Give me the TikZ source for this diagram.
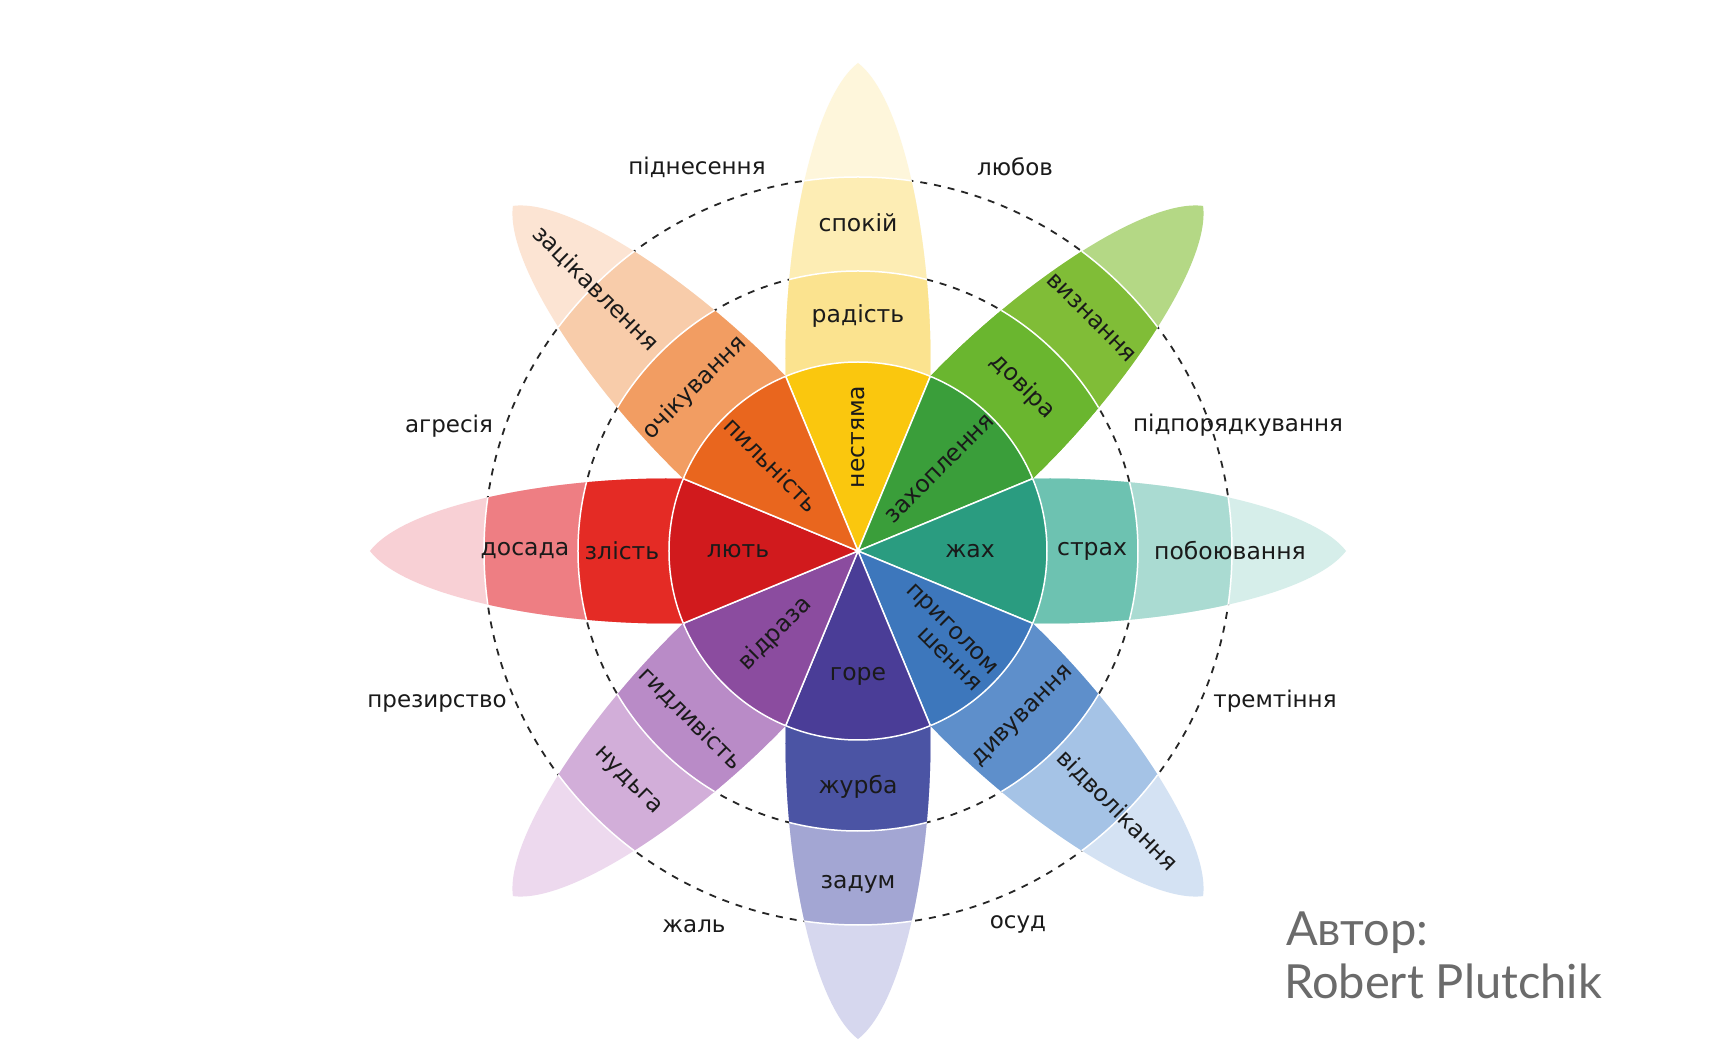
\documentclass[tikz,border=0pt]{standalone}
\usepackage{fontspec}
\setmainfont{DejaVu Sans}
\newfontfamily\authorfont{Lato}
\definecolor{joyA}{HTML}{FAC70E}\definecolor{joyB}{HTML}{FBE38F}\definecolor{joyC}{HTML}{FDEDB4}\definecolor{joyD}{HTML}{FEF6DB}
\definecolor{truA}{HTML}{3A9E3A}\definecolor{truB}{HTML}{6AB62F}\definecolor{truC}{HTML}{80BD37}\definecolor{truD}{HTML}{B4D885}
\definecolor{feaA}{HTML}{2A9C80}\definecolor{feaB}{HTML}{6DC2B1}\definecolor{feaC}{HTML}{AADBD2}\definecolor{feaD}{HTML}{D6EEEA}
\definecolor{surA}{HTML}{3D77BC}\definecolor{surB}{HTML}{5E8FCB}\definecolor{surC}{HTML}{A5C3E6}\definecolor{surD}{HTML}{D4E2F3}
\definecolor{sadA}{HTML}{4A3D97}\definecolor{sadB}{HTML}{4B54A4}\definecolor{sadC}{HTML}{A3A6D3}\definecolor{sadD}{HTML}{D6D7EE}
\definecolor{disA}{HTML}{8B4C9F}\definecolor{disB}{HTML}{B98BC7}\definecolor{disC}{HTML}{D2AED9}\definecolor{disD}{HTML}{EDD9EE}
\definecolor{angA}{HTML}{D11A1D}\definecolor{angB}{HTML}{E42B25}\definecolor{angC}{HTML}{EE7E83}\definecolor{angD}{HTML}{F8D0D5}
\definecolor{antA}{HTML}{E9661E}\definecolor{antB}{HTML}{F29D62}\definecolor{antC}{HTML}{F8CCAA}\definecolor{antD}{HTML}{FCE4D3}
\definecolor{txt}{HTML}{1A1A1A}
\newcommand\drawpetal[5]{%
\begin{scope}[rotate=#1]
 \begin{scope}
  \clip (0,0) -- (-22.5:189) .. controls (300,-75) and (452,-47) .. (488,0) .. controls (452,47) and (300,75) .. (22.5:189) -- cycle;
  \fill[#5] (0,0) circle (500);
  \fill[#4] (0,0) circle (374);
  \fill[#3] (0,0) circle (280);
  \fill[#2] (0,0) circle (189);
  \draw[sep] (0,0) circle (189) (0,0) circle (280) (0,0) circle (374);
 \end{scope}
 \draw[sep] (0,0) -- (-22.5:189) (0,0) -- (22.5:189);
\end{scope}}
\tikzset{
 sep/.style={white, line width=1.5pt},
 dashring/.style={black!85, line width=1.8pt, dash pattern=on 7pt off 7pt},
 lab/.style={text=txt, font=\fontsize{23.5}{24}\selectfont, inner sep=0pt},
 dyad/.style={text=txt, font=\fontsize{23}{26}\selectfont, inner sep=0pt},
 author/.style={text=black!58, font=\authorfont\fontsize{47}{52}\selectfont, inner sep=0pt, anchor=base west}
}
\begin{document}
\begin{tikzpicture}[x=1pt,y=1pt]
\useasboundingbox (-858,-498) rectangle (875,551);
\fill[white] (-858,-498) rectangle (875,551);
\draw[dashring] (0,0) circle (280) (0,0) circle (374);
\drawpetal{90}{joyA}{joyB}{joyC}{joyD}
\drawpetal{45}{truA}{truB}{truC}{truD}
\drawpetal{0}{feaA}{feaB}{feaC}{feaD}
\drawpetal{-45}{surA}{surB}{surC}{surD}
\drawpetal{-90}{sadA}{sadB}{sadC}{sadD}
\drawpetal{-135}{disA}{disB}{disC}{disD}
\drawpetal{180}{angA}{angB}{angC}{angD}
\drawpetal{135}{antA}{antB}{antC}{antD}
% inner ring
\node[lab, rotate=90] (ecstasy) at (90:114) {нестяма};
\node[lab, rotate=45] (admiration) at (45:116) {захоплення};
\node[lab] (terror) at (0:112) {жах};
\node[lab, rotate=-45, align=right] (amazement) at (-45:122) {приголом\\шення};
\node[lab] (grief) at (-90:125) {горе};
\node[lab, rotate=45] (loathing) at (-135:117) {відраза};
\node[lab] (rage) at (180:120) {лють};
\node[lab, rotate=-45] (vigilance) at (135:122) {пильність};
% middle ring
\node[lab] (joy) at (90:235) {радість};
\node[lab, rotate=-45] (trust) at (45:233) {довіра};
\node[lab] (fear) at (0:234) {страх};
\node[lab, rotate=45] (surprise) at (-45:234) {дивування};
\node[lab] (sadness) at (-90:236) {журба};
\node[lab, rotate=-45] (disgust) at (-135:237) {гидливість};
\node[lab] (anger) at (180:236) {злість};
\node[lab, rotate=45] (anticipation) at (135:231) {очікування};
% outer ring
\node[lab] (serenity) at (90:328) {спокій};
\node[lab, rotate=-45] (acceptance) at (45:330) {визнання};
\node[lab] (apprehension) at (0:372) {побоювання};
\node[lab, rotate=-45] (distraction) at (-45:367) {відволікання};
\node[lab] (pensiveness) at (-90:333) {задум};
\node[lab, rotate=-45] (boredom) at (-135:326) {нудьга};
\node[lab] (annoyance) at (180:333) {досада};
\node[lab, rotate=-45] (interest) at (135:371) {зацікавлення};
% dyads
\node[dyad] (optimism) at (-161,384) {піднесення};
\node[dyad] (love) at (157,384) {любов};
\node[dyad] (submission) at (380,126) {підпорядкування};
\node[dyad] (aggression) at (-409,125) {агресія};
\node[dyad] (contempt) at (-421,-152) {презирство};
\node[dyad] (awe) at (417,-150) {тремтіння};
\node[dyad] (remorse) at (-164,-375) {жаль};
\node[dyad] (disapproval) at (160,-373) {осуд};
% author
\node[author] (authorA) at (428,-394) {Автор:};
\node[author] (authorB) at (426,-447) {Robert Plutchik};
\end{tikzpicture}
\end{document}
